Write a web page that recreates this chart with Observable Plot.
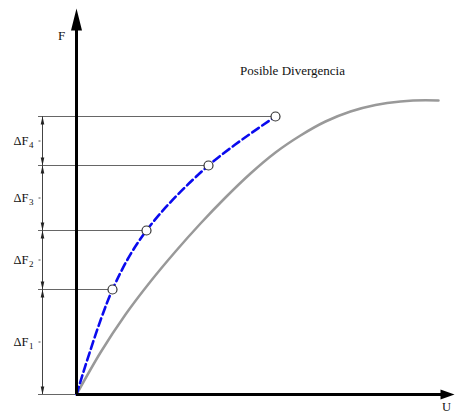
<!DOCTYPE html>
<html>
<head>
<meta charset="utf-8">
<script src="https://cdn.jsdelivr.net/npm/d3@7"></script>
<script src="https://cdn.jsdelivr.net/npm/@observablehq/plot@0.6"></script>
<style>
  html, body { margin: 0; padding: 0; background: #fff; }
  svg text { font-family: "Liberation Serif", "Times New Roman", serif; }
</style>
</head>
<body>
<div id="chart"></div>
<script>
// Load levels reached at the end of each increment (F)
const levels = [0, 1.05, 1.64, 2.29, 2.78];
// Displacement reached at the end of each increment (U)
const stepU = [0.36, 0.70, 1.32, 1.99];
// Increment labels
const stepNames = ["1", "2", "3", "4"];

// Exact equilibrium path (gray curve)
const pathU = [0, 0.24, 0.49, 0.74, 0.99, 1.24, 1.49, 1.74, 1.99, 2.24, 2.49, 2.74, 2.99, 3.24, 3.49, 3.62];
const pathF = [0, 0.42, 0.80, 1.13, 1.43, 1.71, 1.97, 2.21, 2.42, 2.59, 2.73, 2.83, 2.895, 2.93, 2.942, 2.94];

// Axis names and annotation
const axisNames = {x: "U", y: "F"};
const note = "Posible Divergencia";

// Geometry of the drawing frame (in data units)
const uMax = 3.78, fMax = 3.86;
const dimU = -0.34;      // dimension line position
const guideStart = -0.38;

// Filled, narrow arrowhead with its tip at the origin, pointing up
function arrowHead(len, half) {
  return {
    draw(ctx) {
      ctx.moveTo(0, 0);
      ctx.lineTo(half, len);
      ctx.lineTo(-half, len);
      ctx.closePath();
    }
  };
}

const curvePts = pathU.map((u, i) => ({u, f: pathF[i]}));
const stepPts = stepU.map((u, i) => ({u, f: levels[i + 1]}));
const incPts = [{u: 0, f: 0}, ...stepPts];

const guides = levels.map((f, i) => ({f, x2: i === 0 ? 0 : stepU[i - 1]}));

const segments = stepNames.map((name, i) => ({
  name,
  lo: levels[i],
  hi: levels[i + 1],
  mid: (levels[i] + levels[i + 1]) / 2
}));

const heads = segments.flatMap(s => [
  {f: s.hi, rot: 0},
  {f: s.lo, rot: 180}
]);

const serif = "Liberation Serif";

const chart = Plot.plot({
  width: 455,
  height: 414,
  marginLeft: 76,
  marginRight: 1,
  marginTop: 8,
  marginBottom: 20,
  x: {domain: [0, uMax], axis: null},
  y: {domain: [0, fMax], axis: null},
  style: {background: "#fff", overflow: "visible"},
  marks: [
    // horizontal guides from the dimension line to each increment point
    Plot.ruleY(guides, {y: "f", x1: guideStart, x2: "x2", stroke: "#666", strokeWidth: 1}),
    // dimension line
    Plot.ruleX([dimU], {y1: 0, y2: levels[levels.length - 1], stroke: "#444", strokeWidth: 1}),
    Plot.dot(heads, {x: dimU, y: "f", rotate: "rot", r: 4, symbol: arrowHead(8, 1.8), fill: "#222", stroke: "none"}),
    // small ticks beside the labels
    Plot.link(segments, {x1: dimU - 0.04, x2: dimU - 0.02, y1: "mid", y2: "mid", stroke: "#555", strokeWidth: 1}),
    // ΔF labels with subscripts
    Plot.text(segments, {x: -0.48, y: "mid", text: () => "ΔF", textAnchor: "end", fontSize: 12.5, fontFamily: serif, fill: "#111"}),
    Plot.text(segments, {x: -0.48, y: "mid", text: "name", textAnchor: "start", dx: 0.5, dy: 4, fontSize: 9, fontFamily: serif, fill: "#111"}),
    // exact path
    Plot.line(curvePts, {x: "u", y: "f", curve: "monotone-x", stroke: "#999", strokeWidth: 2.5}),
    // incremental path
    Plot.line(incPts, {x: "u", y: "f", curve: "catmull-rom", stroke: "#0a0aee", strokeWidth: 2.6, strokeDasharray: "8,4"}),
    Plot.dot(stepPts, {x: "u", y: "f", r: 4.5, fill: "#fff", stroke: "#333", strokeWidth: 1.2}),
    // axes
    Plot.ruleX([0], {y1: 0, y2: fMax - 0.18, stroke: "#000", strokeWidth: 3}),
    Plot.ruleY([0], {x1: 0, x2: uMax - 0.1, stroke: "#000", strokeWidth: 3}),
    Plot.dot([{u: 0, f: fMax}], {x: "u", y: "f", r: 6, symbol: arrowHead(22, 5.5), fill: "#000", stroke: "none"}),
    Plot.dot([{u: uMax, f: 0}], {x: "u", y: "f", r: 6, rotate: 90, symbol: arrowHead(14, 5), fill: "#000", stroke: "none"}),
    // axis names and annotation
    Plot.text([axisNames.y], {x: -0.15, y: 3.59, text: d => d, fontSize: 13, fontFamily: serif, fill: "#111"}),
    Plot.text([axisNames.x], {x: 3.70, y: -0.125, text: d => d, fontSize: 12.5, fontFamily: serif, fill: "#111"}),
    Plot.text([note], {x: 2.16, y: 3.24, text: d => d, fontSize: 13, fontFamily: serif, fill: "#111"})
  ]
});

document.getElementById("chart").appendChild(chart);
</script>
</body>
</html>
